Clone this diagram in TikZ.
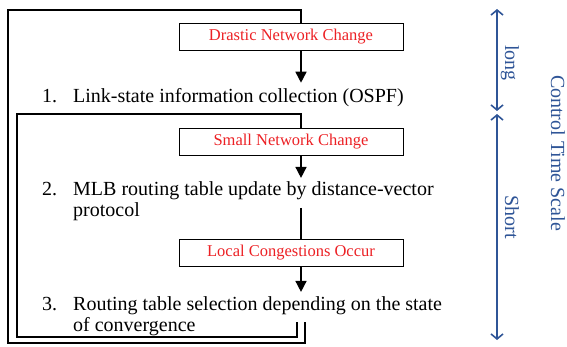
\documentclass[tikz,border=0pt]{standalone}
\usepackage{fontspec}
\setmainfont{Liberation Serif}
\usetikzlibrary{arrows.meta}
\definecolor{scaleblue}{RGB}{47,85,151}
\definecolor{eventred}{RGB}{236,32,36}
\newcommand{\steptext}[2]{\parbox[t]{440pt}{\hangindent=31pt\hangafter=1\makebox[31pt][l]{#1}#2}}

\begin{document}
\begin{tikzpicture}[x=1pt,y=-1pt,
	event/.style={draw,line width=0.8pt,minimum width=224pt,minimum height=27pt,inner sep=0pt,text=eventred,font=\fontsize{16.5}{18}\selectfont},
	stepitem/.style={anchor=base west,inner sep=0pt,font=\fontsize{20}{21}\selectfont},
	flow/.style={line width=1.6pt},
	flowarrow/.style={flow,-{Triangle[width=11pt,length=11pt]}},
	timearrow/.style={scaleblue,line width=1.6pt,{Straight Barb[length=5pt,width=12pt]}-{Straight Barb[length=5pt,width=12pt]}},
	timelabel/.style={text=scaleblue,rotate=-90,inner sep=0pt,font=\fontsize{20}{22}\selectfont}]

	\useasboundingbox (0,0) rectangle (567,347);

	% event boxes
	\node[event] (drastic) at (291,37) {Drastic Network Change};
	\node[event] (small) at (291,142) {Small Network Change};
	\node[event] (local) at (291,253) {Local Congestions Occur};

	% steps
	\node[stepitem] (step1) at (42,103) {\steptext{1.}{Link-state information collection (OSPF)}};
	\node[stepitem] (step2) at (42,196) {\steptext{2.}{MLB routing table update by distance-vector\\protocol}};
	\node[stepitem] (step3) at (42,310) {\steptext{3.}{Routing table selection depending on the state\\of convergence}};

	\coordinate (col) at (301,0);
	\coordinate (step2out) at (301,208);
	\coordinate (outerend) at (305,322);
	\coordinate (innerend) at (297,322);

	% flow
	\draw[flowarrow,shorten >=6pt] (drastic.south -| col) -- (step1.north -| col);
	\draw[flowarrow,shorten >=4pt] (small.south -| col) -- (step2.north -| col);
	\draw[flow] (step2out) -- (local.north -| col);
	\draw[flowarrow,shorten >=4pt] (local.south -| col) -- (step3.north -| col);

	% loops back
	\draw[flow] (outerend) -- (305,343) -- (8,343) -- (8,10) -- (301,10) -- (drastic.north -| col);
	\draw[flow] (innerend) -- (297,337) -- (17,337) -- (17,114) -- (301,114) -- (small.north -| col);

	% time scale
	\coordinate (longtop) at (497,9);
	\coordinate (longbot) at (497,111);
	\coordinate (shorttop) at (497,114);
	\coordinate (shortbot) at (497,340);
	\draw[timearrow] (longtop) -- (longbot);
	\draw[timearrow] (shorttop) -- (shortbot);
	\node[timelabel] (long) at (510,63) {long};
	\node[timelabel] (short) at (512,217) {Short};
	\node[timelabel] (scale) at (558,153) {Control Time Scale};
\end{tikzpicture}
\end{document}
